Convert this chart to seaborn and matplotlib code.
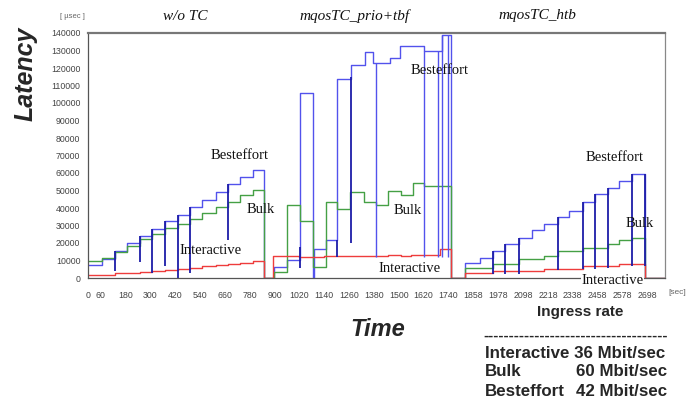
import matplotlib
matplotlib.use("Agg")
import matplotlib.pyplot as plt
import seaborn as sns
import pandas as pd

# ---------------- data ----------------
# Besteffort (blue) step starts [sec] and latency [usec]
best_t = [0, 67, 130, 190, 251, 311, 370, 432, 491, 552, 616, 677, 733, 794, 850,
          900, 961, 1022, 1085, 1090, 1148, 1201, 1269, 1335, 1375, 1456, 1508, 1623, 1710, 1750,
          1820, 1892, 1953, 2014, 2079, 2143, 2203, 2267, 2324, 2388, 2449, 2509, 2565, 2627, 2688, 2785]
best_v = [7500, 11000, 15400, 20000, 24000, 28000, 32300, 36200, 40800, 44500, 49400, 54000, 57500, 61700, 0,
          6300, 10500, 106000, 0, 16800, 21800, 114000, 122000, 129000, 123000, 126000, 132600, 130000, 139000, 0,
          8800, 11300, 15500, 19300, 23100, 27300, 30700, 35000, 38500, 43200, 48000, 51300, 55700, 59500, 0, 0]

# Bulk (green)
bulk_t = [0, 67, 130, 190, 251, 311, 370, 432, 491, 552, 616, 677, 733, 794, 850,
          900, 961, 1022, 1088, 1148, 1201, 1265, 1333, 1390, 1446, 1510, 1567, 1623, 1720, 1750,
          1820, 1953, 2079, 2203, 2267, 2388, 2509, 2565, 2627, 2688, 2785]
bulk_v = [9600, 11500, 15000, 18500, 22500, 25000, 28500, 31000, 34000, 37300, 40800, 43500, 47500, 50400, 0,
          3600, 41900, 32500, 6300, 43600, 39600, 49000, 43300, 42000, 50000, 47500, 54500, 52500, 52800, 0,
          5900, 7800, 10700, 12600, 15500, 17400, 19300, 21600, 23100, 0, 0]

# Interactive (red)
inter_t = [0, 67, 130, 190, 251, 311, 370, 432, 491, 552, 616, 677, 733, 794, 850,
           894, 1020, 1140, 1260, 1380, 1450, 1510, 1560, 1700, 1750,
           1820, 1953, 2203, 2388, 2565, 2688, 2785]
inter_v = [1700, 2000, 2600, 3000, 3500, 4200, 4800, 5400, 6000, 6600, 7200, 8000, 8800, 9600, 0,
           12300, 12000, 12600, 12300, 12600, 13000, 12400, 13000, 16300, 0,
           3000, 4000, 5300, 6900, 7800, 0, 0]

# spikes (vertical glitches) at switching instants
dark_spike_t = [130, 251, 311, 370, 432, 491, 677, 1022, 1201, 1269,
                1953, 2014, 2079, 2267, 2388, 2449, 2509, 2627, 2688]
dark_spike_lo = [4000, 9000, 3000, 7000, 0, 3000, 21500, 6000, 12000, 20000,
                 2500, 2500, 2500, 4500, 5000, 5000, 5500, 7000, 7000]
dark_spike_hi = [15400, 24000, 28000, 32300, 36200, 40800, 54000, 18000, 22000, 115000,
                 15500, 19300, 23100, 35000, 43200, 48000, 51300, 59500, 59500]

light_spike_t = [1390, 1623, 1690, 1710, 1740]
light_spike_lo = [12000, 12000, 12000, 12000, 12000]
light_spike_hi = [123000, 130000, 130000, 139000, 139000]

series_names = ["Besteffort", "Bulk", "Interactive"]
colors = {"Besteffort": "#5252ec", "Bulk": "#45a045", "Interactive": "#ee3c3c"}

xtick_pos = [0, 60, 180, 300, 420, 540, 660, 780, 900, 1020, 1140, 1260, 1380, 1500, 1620, 1740,
             1860, 1980, 2100, 2220, 2340, 2460, 2580, 2700]
xtick_lab = ["0", "60", "180", "300", "420", "540", "660", "780", "900", "1020", "1140", "1260",
             "1380", "1500", "1620", "1740", "1858", "1978", "2098", "2218", "2338", "2458", "2578", "2698"]
yticks = list(range(0, 140001, 10000))

# ---------------- figure ----------------
sns.set_style("white")
plt.rcParams["font.family"] = ["Liberation Sans", "DejaVu Sans"]

fig = plt.figure(figsize=(7.0, 4.01), dpi=100)
ax = fig.add_axes([88/700, 1-278/401, (665-88)/700, (278-33)/401])

df = pd.concat([
    pd.DataFrame({"t": best_t, "v": best_v, "s": "Besteffort"}),
    pd.DataFrame({"t": bulk_t, "v": bulk_v, "s": "Bulk"}),
    pd.DataFrame({"t": inter_t, "v": inter_v, "s": "Interactive"}),
], ignore_index=True)

sns.lineplot(data=df, x="t", y="v", hue="s", hue_order=series_names, palette=colors,
             estimator=None, drawstyle="steps-post", linewidth=1.0, legend=False, ax=ax)

ax.vlines(light_spike_t, light_spike_lo, light_spike_hi, color=colors["Besteffort"], linewidth=1.0)
ax.vlines(dark_spike_t, dark_spike_lo, dark_spike_hi, color="#1c1ca8", linewidth=1.3)

ax.set_xlim(0, 2785)
ax.set_ylim(0, 140000)
ax.set_xlabel("")
ax.set_ylabel("")

ax.set_xticks(list(range(0, 2785, 60)), minor=True)
ax.set_xticks(xtick_pos)
ax.set_xticklabels(xtick_lab)
ax.set_yticks(yticks)
ax.set_yticklabels([str(v) for v in yticks])
ax.tick_params(axis="both", which="both", direction="out", length=4, width=0.7,
               colors="#666666", labelsize=6.3, labelcolor="#444444", pad=1.5)
ax.tick_params(axis="x", which="both", length=5, pad=4)

for side in ["left", "bottom"]:
    ax.spines[side].set_color("#555555")
    ax.spines[side].set_linewidth(0.9)
ax.spines["top"].set_color("#777777")
ax.spines["top"].set_linewidth(1.6)
ax.spines["right"].set_color("#888888")
ax.spines["right"].set_linewidth(0.9)

# in-plot series labels
serif = ["Liberation Serif", "DejaVu Serif"]
lab_kw = dict(fontsize=10.5, family=serif, ha="center", va="center", color="#111111")
ax.text(730, 70000, "Besteffort", **lab_kw)
ax.text(836, 39000, "Bulk", **lab_kw)
ax.text(590, 15500, "Interactive", **lab_kw)
ax.text(1696, 118800, "Besteffort", **lab_kw)
ax.text(1541, 38500, "Bulk", **lab_kw)
ax.text(1551, 5200, "Interactive", **lab_kw)
ax.text(2541, 68900, "Besteffort", **lab_kw)
ax.text(2662, 31000, "Bulk", **lab_kw)
ax.text(2531, -1200, "Interactive", clip_on=False, zorder=5,
        bbox=dict(boxstyle="square,pad=0.05", fc="white", ec="none"), **lab_kw)

# section titles
tit_kw = dict(fontsize=11, family=serif, style="italic", ha="center", va="center", color="#111111")
fig.text(185/700, 1-16/401, "w/o TC", **tit_kw)
fig.text(355/700, 1-16/401, "mqosTC_prio+tbf", **tit_kw)
fig.text(537/700, 1-16/401, "mqosTC_htb", **tit_kw)
fig.text(72/700, 1-17/401, "[ \u00b5sec ]", fontsize=5.5, ha="center", va="center", color="#666666")
fig.text(677/700, 1-292/401, "[sec]", fontsize=6, ha="center", va="center", color="#666666")

# axis titles
fig.text(26/700, 1-74/401, "Latency", fontsize=18, fontweight="bold", style="italic",
         rotation=90, ha="center", va="center")
fig.text(378/700, 1-330/401, "Time", fontsize=17, fontweight="bold", style="italic",
         ha="center", va="center")

# ingress rate box
big = 12.2
fig.text(580/700, 1-312/401, "Ingress rate", fontsize=11, fontweight="bold", ha="center", va="center")
fig.text(576/700, 1-336/401, "-" * 36, fontsize=11, fontweight="bold", ha="center", va="center")
fig.text(485/700, 1-353/401, "Interactive 36 Mbit/sec", fontsize=big, fontweight="bold",
         ha="left", va="center")
fig.text(485/700, 1-372/401, "Bulk", fontsize=big, fontweight="bold", ha="left", va="center")
fig.text(667/700, 1-372/401, "60 Mbit/sec", fontsize=big, fontweight="bold", ha="right", va="center")
fig.text(485/700, 1-392/401, "Besteffort", fontsize=big, fontweight="bold", ha="left", va="center")
fig.text(667/700, 1-392/401, "42 Mbit/sec", fontsize=big, fontweight="bold", ha="right", va="center")

fig.savefig("out.png", dpi=100)
